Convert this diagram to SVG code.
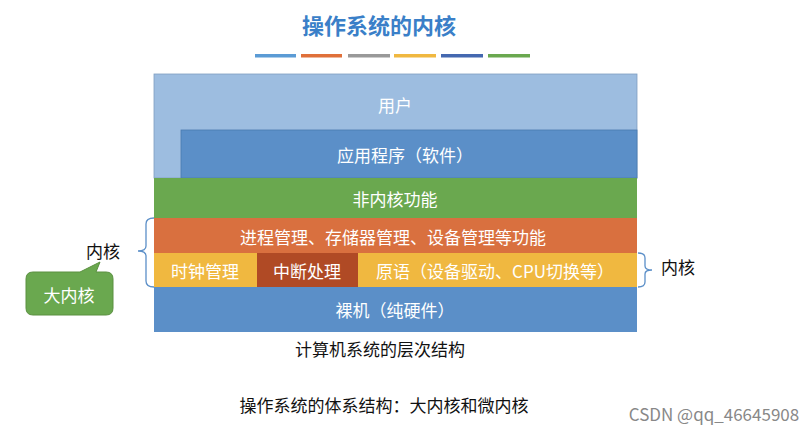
<svg xmlns="http://www.w3.org/2000/svg" width="810" height="434" viewBox="0 0 810 434">
<style>
text{font-family:"Noto Sans CJK SC","Liberation Sans",sans-serif;font-size:17px;text-anchor:middle;dominant-baseline:central}
.w{fill:#fff}
.k{fill:#111}
.br{fill:none;stroke:#5b8fc8;stroke-width:1.3}
</style>
<rect width="810" height="434" fill="#fff"/>
<text x="379" y="24" style="font-size:22px;font-weight:bold;fill:#3a7fc8">操作系统的内核</text>
<g>
<rect x="255" y="54" width="41" height="3.5" fill="#5b9bd5"/>
<rect x="301" y="54" width="41" height="3.5" fill="#e0703a"/>
<rect x="348" y="54" width="42" height="3.5" fill="#999"/>
<rect x="394" y="54" width="42" height="3.5" fill="#f0b840"/>
<rect x="441" y="54" width="42" height="3.5" fill="#4468b0"/>
<rect x="488" y="54" width="42" height="3.5" fill="#6aa84f"/>
</g>
<g id="user"><rect x="154" y="74" width="483" height="104" fill="#9dbde0" stroke="#7f9fc0" stroke-width="0.8"/><text class="w" x="395" y="104">用户</text></g>
<g id="app"><rect x="181" y="130" width="456" height="48" fill="#5b8fc8" stroke="#4a7bb0" stroke-width="0.8"/><text class="w" x="405" y="154">应用程序（软件）</text></g>
<g id="nonkernel"><rect x="154" y="178" width="483" height="40" fill="#6aa84f"/><text class="w" x="395" y="198">非内核功能</text></g>
<g id="proc"><rect x="154" y="218" width="483" height="35" fill="#d9703f"/><text class="w" x="393" y="236">进程管理、存储器管理、设备管理等功能</text></g>
<g id="clock"><rect x="154" y="253" width="103" height="34" fill="#f0b840"/><text class="w" x="205" y="270">时钟管理</text></g>
<g id="intr"><rect x="257" y="253" width="101" height="34" fill="#b04a25"/><text class="w" x="307" y="270">中断处理</text></g>
<g id="prim"><rect x="358" y="253" width="279" height="34" fill="#f0b840"/><text class="w" x="495" y="270">原语（设备驱动、CPU切换等）</text></g>
<g id="bare"><rect x="154" y="287" width="483" height="45" fill="#5b8fc8"/><text class="w" x="395" y="309">裸机（纯硬件）</text></g>
<g id="connectors">
<path class="br" d="M154,218 Q146,218 146,224 L146,246 Q146,251 138,251 Q146,251 146,256 L146,281 Q146,287 154,287"/>
<path class="br" d="M638,253 Q645,253 645,258 L645,266 Q645,270 652,270 Q645,270 645,274 L645,282 Q645,287 638,287"/>
</g>
<g id="label-left"><text class="k" x="103" y="250">内核</text></g>
<g id="label-right"><text class="k" x="678" y="266">内核</text></g>
<g id="callout"><path d="M33,272 L80,272 L100,262 L96,272 L106,272 Q113,272 113,279 L113,308 Q113,315 106,315 L33,315 Q26,315 26,308 L26,279 Q26,272 33,272Z" fill="#6aa84f" stroke="#5a9040" stroke-width="1"/><text class="w" x="69" y="294">大内核</text></g>
<text class="k" x="380" y="348">计算机系统的层次结构</text>
<text class="k" x="384" y="404">操作系统的体系结构：大内核和微内核</text>
<text x="714" y="413" style="fill:#888;font-size:17px">CSDN @qq_46645908</text>
</svg>
